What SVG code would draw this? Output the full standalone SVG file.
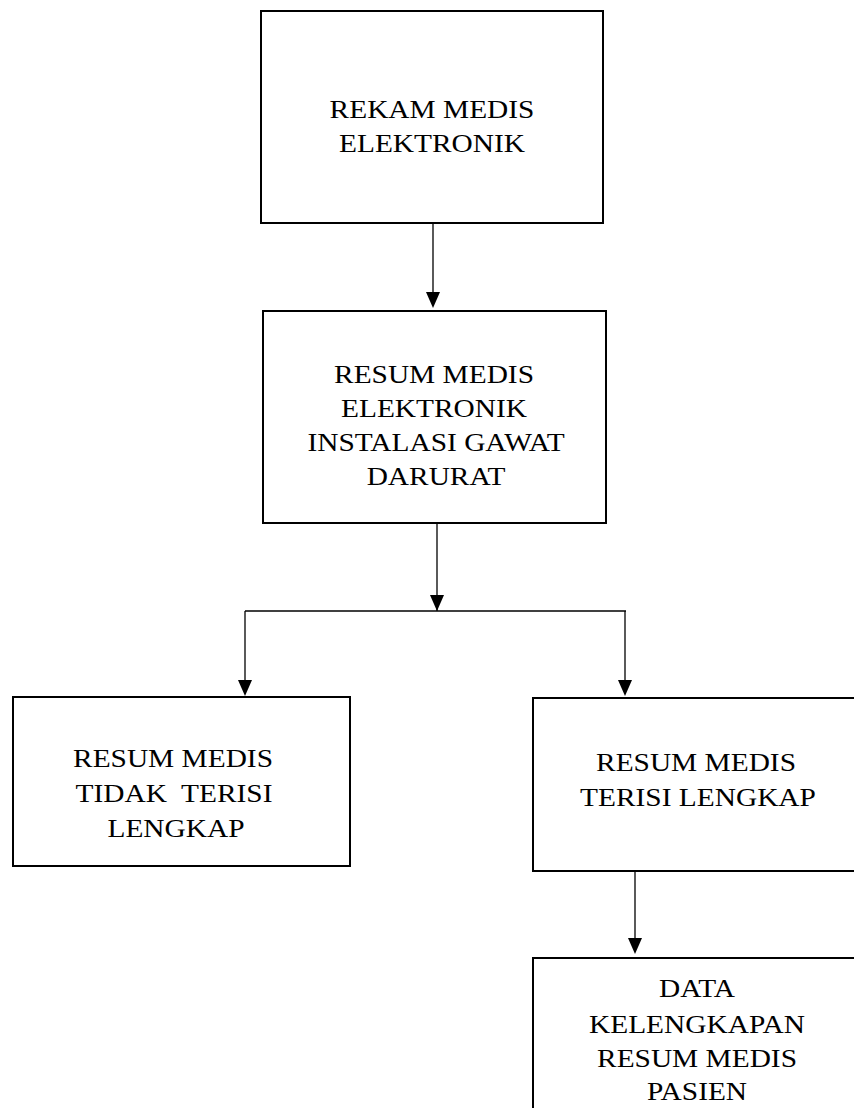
<svg xmlns="http://www.w3.org/2000/svg" width="854" height="1108" viewBox="0 0 854 1108">
<style>
.box{fill:#fff;stroke:#000;stroke-width:2}
.t{font-family:"Liberation Serif","Times New Roman",serif;font-size:26px;fill:#000;text-anchor:middle}
.c{fill:none;stroke:#000;stroke-width:1.3}
.h{fill:#000}
</style>
<rect width="854" height="1108" fill="#fff"/>
<g id="connectors">
<path class="c" d="M433,223 V293"/>
<path class="h" d="M426,292 L440,292 L433,308 Z"/>
<path class="c" d="M437,524 V611"/>
<path class="h" d="M430,595 L444,595 L437,611 Z"/>
<path class="c" d="M245,611 H626"/>
<path class="c" d="M245,611 V681"/>
<path class="h" d="M238,680 L252,680 L245,696 Z"/>
<path class="c" d="M625,611 V681"/>
<path class="h" d="M618,680 L632,680 L625,696 Z"/>
<path class="c" d="M635,871 V939"/>
<path class="h" d="M628,938 L642,938 L635,954 Z"/>
</g>
<g id="node1">
<rect class="box" x="261" y="11" width="342" height="212"/>
<text class="t" transform="translate(432,118) scale(1.13,1)">REKAM MEDIS</text>
<text class="t" transform="translate(432,152) scale(1.13,1)">ELEKTRONIK</text>
</g>
<g id="node2">
<rect class="box" x="263" y="311" width="343" height="212"/>
<text class="t" transform="translate(434,383) scale(1.13,1)">RESUM MEDIS</text>
<text class="t" transform="translate(434,417) scale(1.13,1)">ELEKTRONIK</text>
<text class="t" transform="translate(436,451) scale(1.13,1)">INSTALASI GAWAT</text>
<text class="t" transform="translate(436,485) scale(1.13,1)">DARURAT</text>
</g>
<g id="node3">
<rect class="box" x="13" y="697" width="337" height="169"/>
<text class="t" transform="translate(173,767) scale(1.13,1)">RESUM MEDIS</text>
<text class="t" transform="translate(174,802) scale(1.13,1)" xml:space="preserve">TIDAK  TERISI</text>
<text class="t" transform="translate(176,837) scale(1.13,1)">LENGKAP</text>
</g>
<g id="node4">
<rect class="box" x="533" y="698" width="340" height="173"/>
<text class="t" transform="translate(696,771) scale(1.13,1)">RESUM MEDIS</text>
<text class="t" transform="translate(698,806) scale(1.13,1)">TERISI LENGKAP</text>
</g>
<g id="node5">
<rect class="box" x="533" y="958" width="340" height="170"/>
<text class="t" transform="translate(697,997) scale(1.13,1)">DATA</text>
<text class="t" transform="translate(697,1033) scale(1.13,1)">KELENGKAPAN</text>
<text class="t" transform="translate(697,1067) scale(1.13,1)">RESUM MEDIS</text>
<text class="t" transform="translate(697,1100) scale(1.13,1)">PASIEN</text>
</g>
</svg>
